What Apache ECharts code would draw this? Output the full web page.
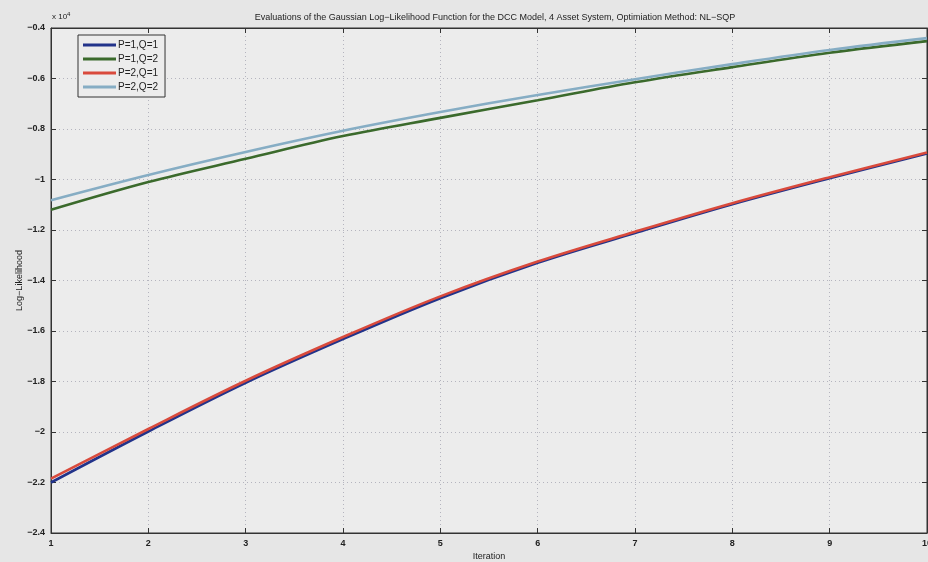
<!DOCTYPE html>
<html><head><meta charset="utf-8">
<script src="https://cdn.jsdelivr.net/npm/echarts@6/dist/echarts.min.js"></script>
<style>html,body{margin:0;padding:0;background:#e6e6e6}#c{width:928px;height:562px}</style>
</head><body><div id="c"></div>
<script>
const iterations = [1,2,3,4,5,6,7,8,9,10];
const p1q1 = [-2.200,-1.998,-1.805,-1.632,-1.470,-1.330,-1.212,-1.098,-0.995,-0.897];
const p1q2 = [-1.120,-1.010,-0.918,-0.828,-0.756,-0.686,-0.615,-0.555,-0.498,-0.452];
const p2q1 = [-2.185,-1.988,-1.797,-1.624,-1.463,-1.325,-1.207,-1.094,-0.991,-0.893];
const p2q2 = [-1.082,-0.982,-0.891,-0.807,-0.733,-0.665,-0.603,-0.543,-0.487,-0.440];
const seriesNames = ['P=1,Q=1','P=1,Q=2','P=2,Q=1','P=2,Q=2'];
const seriesColors = ['#22338a','#3b6a2c','#d94a3c','#86adc4'];
const seriesData = [p1q1,p1q2,p2q1,p2q2];

const font = 'Liberation Sans, Arial, sans-serif';
function fmtY(v){
  let s = (Math.round(v*10)/10).toString();
  return s.replace('-', '\u2212');
}
const chart = echarts.init(document.getElementById('c'));
const gridLine = {show:true, lineStyle:{color:'#b4b4be', type:[1,3], width:1}};
chart.setOption({
  backgroundColor:'#e6e6e6',
  animation:false,
  title:{text:'Evaluations of the Gaussian Log\u2212Likelihood Function for the DCC Model, 4 Asset System, Optimiation Method: NL\u2212SQP',
    left:490, top:8, textAlign:'center',
    textStyle:{fontFamily:font, fontSize:9, fontWeight:'normal', color:'#222'}},
  grid:{left:51, right:1, top:28, bottom:29, show:true, backgroundColor:'#ececec', borderColor:'#333', borderWidth:1, outerBoundsMode:'none', containLabel:false},
  legend:{
    data:seriesNames, orient:'vertical', left:78, top:35,
    backgroundColor:'#ececec', borderColor:'#333', borderWidth:1,
    padding:[5,7,5,5], itemGap:4, itemWidth:33, itemHeight:3,
    icon:'rect',
    textStyle:{fontFamily:font, fontSize:10, color:'#222', padding:[0,0,0,-3]}
  },
  graphic:[{type:'text', left:52, top:11, style:{text:'x 10{s|4}', fontFamily:font, fontSize:8, fill:'#222',
    rich:{s:{fontSize:6, verticalAlign:'top', padding:[0,0,5,0]}}}}],
  xAxis:[{
    type:'value', min:1, max:10, interval:1,
    name:'Iteration', nameLocation:'middle', nameGap:19, nameMoveOverlap:false,
    nameTextStyle:{fontFamily:font, fontSize:9, color:'#222'},
    axisLine:{show:true, lineStyle:{color:'#333'}},
    axisTick:{show:true, inside:true, length:5, lineStyle:{color:'#333'}},
    axisLabel:{fontFamily:font, fontSize:9, color:'#222', margin:6, fontWeight:'bold'},
    splitLine:gridLine
  },{
    type:'value', min:1, max:10, interval:1, position:'top',
    axisLine:{show:true, lineStyle:{color:'#333'}},
    axisTick:{show:true, inside:true, length:5, lineStyle:{color:'#333'}},
    axisLabel:{show:false}, splitLine:{show:false}
  }],
  yAxis:[{
    type:'value', min:-2.4, max:-0.4, interval:0.2,
    name:'Log\u2212Likelihood', nameLocation:'middle', nameGap:27, nameRotate:90, nameMoveOverlap:false,
    nameTextStyle:{fontFamily:font, fontSize:9, color:'#222'},
    axisLine:{show:true, lineStyle:{color:'#333'}},
    axisTick:{show:true, inside:true, length:5, lineStyle:{color:'#333'}},
    axisLabel:{fontFamily:font, fontSize:9, color:'#222', margin:6, formatter:fmtY, fontWeight:'bold'},
    splitLine:gridLine
  },{
    type:'value', min:-2.4, max:-0.4, interval:0.2, position:'right',
    axisLine:{show:true, lineStyle:{color:'#333'}},
    axisTick:{show:true, inside:true, length:5, lineStyle:{color:'#333'}},
    axisLabel:{show:false}, splitLine:{show:false}
  }],
  series: seriesNames.map((n,i)=>({
    name:n, type:'line', symbol:'none', smooth:0.35,
    data: iterations.map((x,j)=>[x, seriesData[i][j]]),
    lineStyle:{color:seriesColors[i], width:2.6},
    itemStyle:{color:seriesColors[i]}
  }))
});
</script></body></html>
